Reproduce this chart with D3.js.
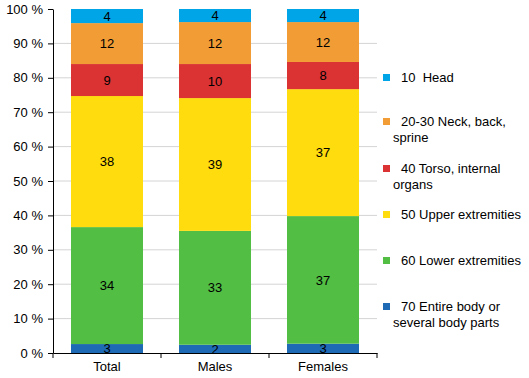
<!DOCTYPE html>
<html>
<head>
<meta charset="utf-8">
<script src="https://cdn.jsdelivr.net/npm/d3@7"></script>
<style>
body { margin: 0; background: #fff; }
svg { font-family: "Liberation Sans", Arial, sans-serif; }
</style>
</head>
<body>
<div id="chart"></div>
<script>
(function(d3) {
'use strict';

var categories = ['Total', 'Males', 'Females'];
var seriesNames = [
  ['70 Entire body or', 'several body parts'],
  ['60 Lower extremities'],
  ['50 Upper extremities'],
  ['40 Torso, internal', 'organs'],
  ['20-30 Neck, back,', 'sprine'],
  ['10  Head']
];
var entireBody = [2.6, 2.4, 2.7];
var lowerExt = [34.0, 33.1, 37.1];
var upperExt = [38.1, 38.6, 36.9];
var torso = [9.3, 9.9, 7.9];
var neckBack = [11.9, 12.2, 11.6];
var head = [4.1, 3.8, 3.8];
var colors = ['#1f6ab4', '#52be44', '#fedc0d', '#db3334', '#f29c35', '#00a5e7'];
var yTicks = [0, 10, 20, 30, 40, 50, 60, 70, 80, 90, 100];

var series = [entireBody, lowerExt, upperExt, torso, neckBack, head];

var width = 529, height = 378;
var left = 53, right = 377, top = 9, bottom = 353;

var svg = d3.select('#chart').append('svg')
  .attr('width', width)
  .attr('height', height);

var y = d3.scaleLinear().domain([0, 100]).range([bottom, top]);
var x = d3.scaleBand()
  .domain(categories)
  .range([left, right])
  .paddingInner(1 / 3)
  .paddingOuter(1 / 6);

// gridlines
svg.append('g')
  .selectAll('line')
  .data(yTicks.filter(function(t) { return t > 0 && t < 100; }))
  .enter().append('line')
  .attr('x1', left)
  .attr('x2', right)
  .attr('y1', function(d) { return y(d); })
  .attr('y2', function(d) { return y(d); })
  .attr('stroke', '#d4d4d4')
  .attr('stroke-width', 1);

// stacked bars
var table = categories.map(function(c, i) {
  var row = { label: c };
  series.forEach(function(s, j) { row['s' + j] = s[i]; });
  return row;
});
var keys = series.map(function(s, j) { return 's' + j; });
var stacked = d3.stack().keys(keys)(table);

var layers = svg.append('g')
  .selectAll('g')
  .data(stacked)
  .enter().append('g')
  .attr('fill', function(d, j) { return colors[j]; });

layers.selectAll('rect')
  .data(function(d) { return d; })
  .enter().append('rect')
  .attr('x', function(d) { return x(d.data.label); })
  .attr('y', function(d) { return y(d[1]); })
  .attr('height', function(d) { return y(d[0]) - y(d[1]); })
  .attr('width', x.bandwidth());

layers.selectAll('text')
  .data(function(d) { return d; })
  .enter().append('text')
  .attr('x', function(d) { return x(d.data.label) + x.bandwidth() / 2; })
  .attr('y', function(d) { return (y(d[0]) + y(d[1])) / 2; })
  .attr('dy', '0.36em')
  .attr('text-anchor', 'middle')
  .attr('font-size', 13)
  .attr('fill', '#000')
  .text(function(d) { return Math.round(d[1] - d[0]); });

// y axis
var yAxis = d3.axisLeft(y)
  .tickValues(yTicks)
  .tickSize(5)
  .tickSizeOuter(0)
  .tickPadding(5)
  .tickFormat(function(d) { return d + ' %'; });

var gy = svg.append('g')
  .attr('transform', 'translate(' + left + ',0)')
  .call(yAxis);
gy.selectAll('text').attr('font-size', 13).attr('fill', '#000').attr('font-family', null);
gy.selectAll('line, path').attr('stroke', '#000');

// x axis
var xAxis = d3.axisBottom(x).tickSize(0).tickSizeOuter(0).tickPadding(9);
var gx = svg.append('g')
  .attr('transform', 'translate(0,' + bottom + ')')
  .call(xAxis);
gx.selectAll('text').attr('font-size', 13).attr('fill', '#000').attr('font-family', null);
gx.select('path').attr('stroke', '#000');
gx.selectAll('.bound')
  .data(d3.range(categories.length + 1))
  .enter().append('line')
  .attr('class', 'bound')
  .attr('x1', function(i) { return left + i * x.step(); })
  .attr('x2', function(i) { return left + i * x.step(); })
  .attr('y1', 0)
  .attr('y2', 5)
  .attr('stroke', '#000');

// legend (top item first)
var legendY = [77, 121, 168, 214, 260, 306];
var legend = svg.append('g')
  .selectAll('g')
  .data(seriesNames.map(function(n, j) { return { lines: n, color: colors[j] }; }).reverse())
  .enter().append('g')
  .attr('transform', function(d, i) { return 'translate(383,' + legendY[i] + ')'; });

legend.append('rect')
  .attr('x', 0)
  .attr('y', -3)
  .attr('width', 7)
  .attr('height', 7)
  .attr('fill', function(d) { return d.color; });

legend.append('text')
  .attr('font-size', 13)
  .attr('fill', '#000')
  .style('white-space', 'pre')
  .selectAll('tspan')
  .data(function(d) { return d.lines; })
  .enter().append('tspan')
  .attr('x', function(d, i) { return i === 0 ? 18 : 10; })
  .attr('y', function(d, i) { return i * 16; })
  .attr('dy', '0.36em')
  .text(function(d) { return d; });

})(window.d3);
</script>
</body>
</html>
